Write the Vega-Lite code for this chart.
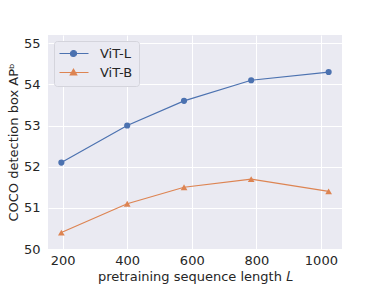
{
  "$schema": "https://vega.github.io/schema/vega-lite/v6.json",
  "width": 294,
  "height": 214,
  "autosize": {"type": "none"},
  "padding": {"left": 48, "top": 35, "right": 39, "bottom": 37},
  "background": "white",
  "config": {
    "view": {"fill": "#EAEAF2", "stroke": null},
    "font": "DejaVu Sans",
    "axis": {
      "domain": false,
      "ticks": false,
      "tickSize": 0,
      "gridColor": "white",
      "gridWidth": 1,
      "gridOpacity": 1,
      "labelFont": "DejaVu Sans",
      "titleFont": "DejaVu Sans",
      "labelFontSize": 13,
      "titleFontSize": 13,
      "titleFontWeight": "normal",
      "labelColor": "#262626",
      "titleColor": "#262626"
    },
    "legend": {
      "labelFont": "DejaVu Sans",
      "labelFontSize": 13,
      "labelColor": "#262626",
      "symbolOpacity": 1
    }
  },
  "data": {
    "values": [
      {"L": 196, "ap": 52.1, "model": "ViT-L"},
      {"L": 400, "ap": 53.0, "model": "ViT-L"},
      {"L": 576, "ap": 53.6, "model": "ViT-L"},
      {"L": 784, "ap": 54.1, "model": "ViT-L"},
      {"L": 1024, "ap": 54.3, "model": "ViT-L"},
      {"L": 196, "ap": 50.4, "model": "ViT-B"},
      {"L": 400, "ap": 51.1, "model": "ViT-B"},
      {"L": 576, "ap": 51.5, "model": "ViT-B"},
      {"L": 784, "ap": 51.7, "model": "ViT-B"},
      {"L": 1024, "ap": 51.4, "model": "ViT-B"}
    ]
  },
  "encoding": {
    "x": {
      "field": "L",
      "type": "quantitative",
      "scale": {"domain": [154.6, 1065.4], "nice": false, "zero": false},
      "axis": {"values": [200, 400, 600, 800, 1000], "format": "d", "labelPadding": 5, "titlePadding": 3, "title": "pretraining sequence length 𝐿", "labelFlush": false}
    },
    "y": {
      "field": "ap",
      "type": "quantitative",
      "scale": {"domain": [50, 55.2], "nice": false, "zero": false},
      "axis": {"values": [50, 51, 52, 53, 54, 55], "labelPadding": 8, "titlePadding": 3, "title": "COCO detection box APᵇ", "labelFlush": false}
    }
  },
  "layer": [
    {
      "mark": {"type": "point", "filled": true, "opacity": 1, "size": 0},
      "encoding": {
        "color": {
          "field": "model",
          "type": "nominal",
          "scale": {"domain": ["ViT-L", "ViT-B"], "range": ["#4C72B0", "#DD8452"]},
          "legend": {
            "title": null,
            "orient": "top-left",
            "offset": 6,
            "padding": 6,
            "fillColor": "#EAEAF2",
            "strokeColor": "#D4D4DC",
            "cornerRadius": 3,
            "labelFont": "DejaVu Sans",
            "labelFontSize": 13,
            "labelColor": "#262626",
            "symbolSize": 100,
            "symbolStrokeWidth": 1.2,
            "labelOffset": 27,
            "rowPadding": 5,
            "symbolOpacity": 1
          }
        },
        "stroke": {
          "field": "model",
          "type": "nominal",
          "scale": {"domain": ["ViT-L", "ViT-B"], "range": ["#4C72B0", "#DD8452"]},
          "legend": {"title": null, "orient": "top-left"}
        },
        "shape": {
          "field": "model",
          "type": "nominal",
          "scale": {
            "domain": ["ViT-L", "ViT-B"],
            "range": [
              "M-1.4,0H4.4M2,0A0.6,0.6,0,1,1,0.8,0A0.6,0.6,0,1,1,2,0Z",
              "M-1.4,0H4.4M1.4,-0.65L2.05,0.5L0.75,0.5Z"
            ]
          },
          "legend": {"title": null, "orient": "top-left"}
        }
      }
    },
    {
      "mark": {"type": "line", "strokeWidth": 1.2},
      "encoding": {
        "color": {"field": "model", "type": "nominal", "legend": null}
      }
    },
    {
      "transform": [{"filter": "datum.model === 'ViT-L'"}],
      "mark": {"type": "point", "shape": "circle", "filled": true, "opacity": 1, "size": 38},
      "encoding": {"color": {"field": "model", "type": "nominal", "legend": null}}
    },
    {
      "transform": [{"filter": "datum.model === 'ViT-B'"}],
      "mark": {"type": "point", "shape": "triangle-up", "filled": true, "opacity": 1, "size": 45},
      "encoding": {"color": {"field": "model", "type": "nominal", "legend": null}}
    }
  ]
}
